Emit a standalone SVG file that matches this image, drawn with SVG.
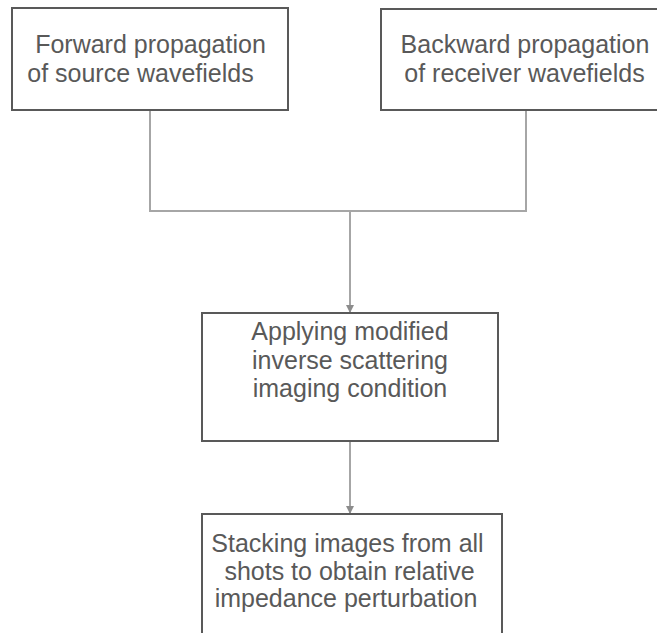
<svg xmlns="http://www.w3.org/2000/svg" width="657" height="633" viewBox="0 0 657 633">
<style>
.box{fill:#ffffff;stroke:#595959;stroke-width:2}
.lbl{font-family:"Liberation Sans",Arial,sans-serif;font-size:25px;fill:#595959;text-anchor:middle}
.conn{fill:none;stroke:#a6a6a6;stroke-width:2}
</style>
<defs>
<marker id="arr" markerWidth="8" markerHeight="8" refX="7" refY="4" orient="auto" markerUnits="userSpaceOnUse">
<path d="M0,0 L8,4 L0,8 Z" fill="#8c8c8c"/>
</marker>
</defs>
<rect width="657" height="633" fill="#ffffff"/>
<g id="connectors">
<polyline class="conn" points="150,110 150,211 526,211 526,110"/>
<line class="conn" x1="350" y1="211" x2="350" y2="312" marker-end="url(#arr)"/>
<line class="conn" x1="350" y1="441" x2="350" y2="513" marker-end="url(#arr)"/>
</g>
<g id="node-forward">
<rect class="box" x="12" y="8" width="276" height="102"/>
<text class="lbl" x="150.5" y="53">Forward propagation</text>
<text class="lbl" x="140.5" y="81.5">of source wavefields</text>
</g>
<g id="node-backward">
<rect class="box" x="381" y="9" width="290" height="101"/>
<text class="lbl" x="525" y="53">Backward propagation</text>
<text class="lbl" x="524.5" y="81.5">of receiver wavefields</text>
</g>
<g id="node-imaging">
<rect class="box" x="202" y="313" width="296" height="128"/>
<text class="lbl" x="350" y="340">Applying modified</text>
<text class="lbl" x="350" y="368.5">inverse scattering</text>
<text class="lbl" x="350" y="397">imaging condition</text>
</g>
<g id="node-stacking">
<rect class="box" x="202" y="514" width="300" height="130"/>
<text class="lbl" x="347.5" y="551.5">Stacking images from all</text>
<text class="lbl" x="349.5" y="579.5">shots to obtain relative</text>
<text class="lbl" x="346" y="607">impedance perturbation</text>
</g>
</svg>
